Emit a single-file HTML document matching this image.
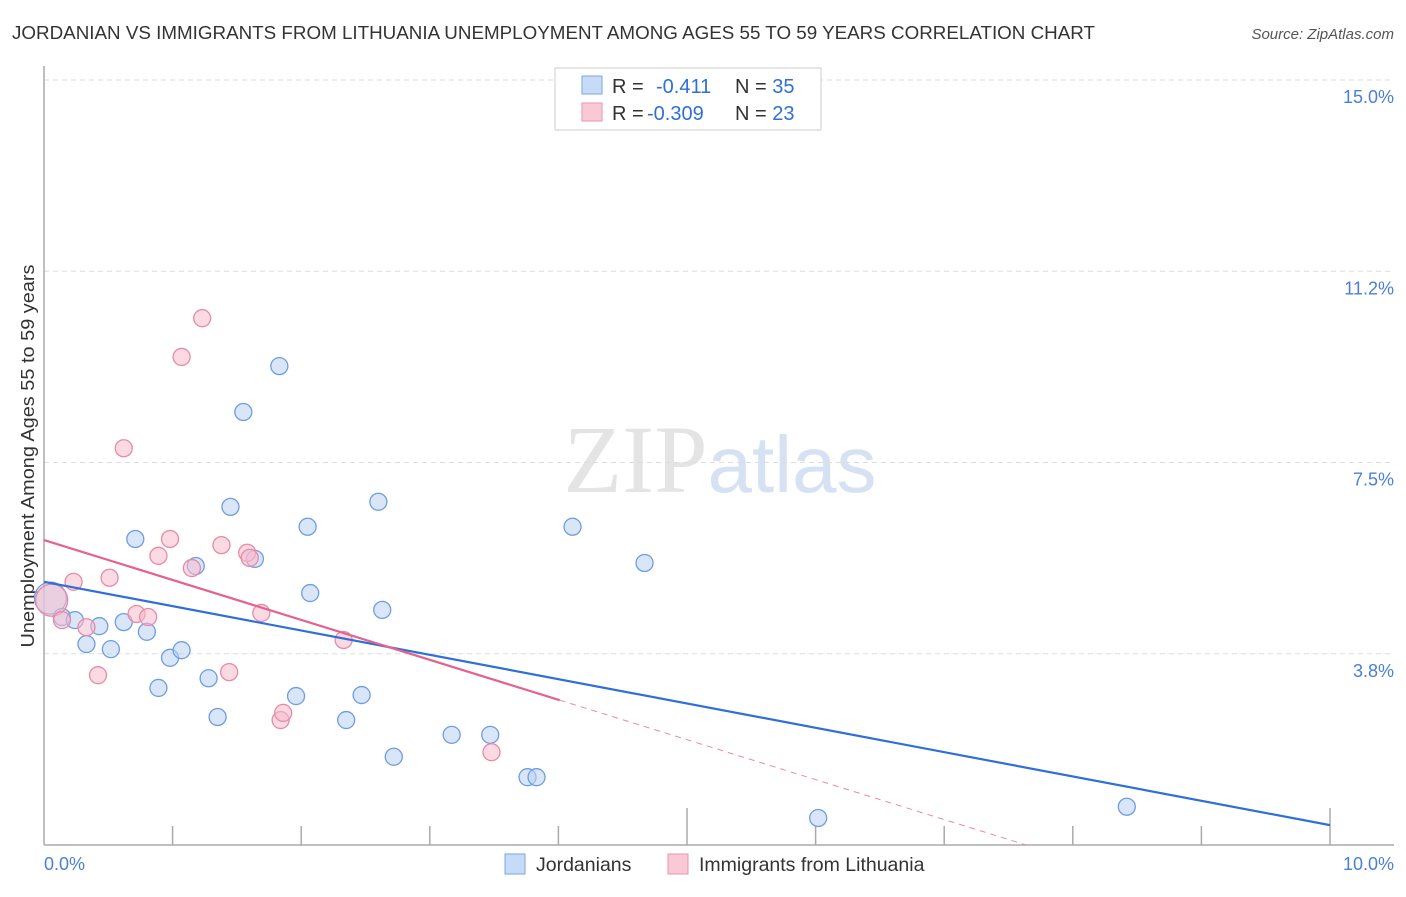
<!DOCTYPE html>
<html><head><meta charset="utf-8"><style>
body{margin:0;background:#fff;font-family:"Liberation Sans",sans-serif}
svg text{font-family:"Liberation Sans",sans-serif}
</style></head><body>
<svg id="c" width="1406" height="892">
<text x="12" y="39" font-size="18" fill="#333" textLength="1083" lengthAdjust="spacingAndGlyphs">JORDANIAN VS IMMIGRANTS FROM LITHUANIA UNEMPLOYMENT AMONG AGES 55 TO 59 YEARS CORRELATION CHART</text>
<text x="1394" y="39" font-size="15" fill="#555" text-anchor="end" font-style="italic">Source: ZipAtlas.com</text>
<text x="720" y="492" font-size="96" fill="#e4e4e4" text-anchor="middle" font-family="Liberation Serif"><tspan font-family="Liberation Serif">ZIP</tspan><tspan fill="#d6e2f3" font-size="80" font-family="Liberation Sans">atlas</tspan></text>
<g id="grid"></g>
<line x1="44" y1="66" x2="44" y2="845" stroke="#aaa" stroke-width="1.5"/>
<line x1="44" y1="845" x2="1394" y2="845" stroke="#aaa" stroke-width="1.5"/>
<g id="ticks"></g>
<text transform="translate(34,456) rotate(-90)" font-size="18" fill="#333" text-anchor="middle" textLength="383" lengthAdjust="spacingAndGlyphs">Unemployment Among Ages 55 to 59 years</text>
<text x="44" y="870" font-size="18" fill="#4a7fd8">0.0%</text>
<text x="1394" y="870" font-size="18" fill="#4a7fd8" text-anchor="end">10.0%</text>
<g id="pts"></g>
<g id="lines"></g>
<g>
<rect x="555" y="68" width="266" height="62" fill="#fff" stroke="#ccc"/>
<rect x="582" y="76" width="20" height="18" fill="#c6dbf7" stroke="#7ea6e6"/>
<rect x="582" y="103" width="20" height="18" fill="#f9c9d6" stroke="#eb93ad"/>
<text x="612" y="93" font-size="20" fill="#333">R = <tspan fill="#2f6fd8" x="656">-0.411</tspan><tspan x="735" fill="#333">N = </tspan><tspan fill="#2f6fd8">35</tspan></text>
<text x="612" y="120" font-size="20" fill="#333">R = <tspan fill="#2f6fd8" x="647">-0.309</tspan><tspan x="735" fill="#333">N = </tspan><tspan fill="#2f6fd8">23</tspan></text>
</g>
<g>
<rect x="505" y="854" width="20" height="20" fill="#c6dbf7" stroke="#7ea6e6"/>
<text x="536" y="871" font-size="19.5" fill="#333">Jordanians</text>
<rect x="668" y="854" width="20" height="20" fill="#f9c9d6" stroke="#eb93ad"/>
<text x="699" y="871" font-size="19.5" fill="#333">Immigrants from Lithuania</text>
</g>
</svg>
<script>
const yTicks=[3.75,7.5,11.25,15];
const yTickLabels=["3.8%","7.5%","11.2%","15.0%"];
const blueX=[0.05,0.14,0.24,0.33,0.43,0.52,0.62,0.71,0.80,0.89,0.98,1.07,1.18,1.28,1.35,1.45,1.55,1.64,1.83,1.96,2.05,2.07,2.35,2.47,2.60,2.63,2.72,3.17,3.47,3.76,3.83,4.11,4.67,6.02,8.42];
const blueY=[4.84,4.47,4.41,3.94,4.29,3.84,4.37,6.00,4.18,3.08,3.67,3.82,5.47,3.27,2.51,6.63,8.49,5.61,9.39,2.92,6.24,4.94,2.45,2.94,6.73,4.61,1.73,2.16,2.16,1.33,1.33,6.24,5.53,0.53,0.75];
const pinkX=[0.06,0.14,0.23,0.33,0.42,0.51,0.62,0.72,0.81,0.89,0.98,1.07,1.15,1.23,1.38,1.44,1.58,1.60,1.69,1.84,1.86,2.33,3.48];
const pinkY=[4.80,4.41,5.16,4.27,3.33,5.24,7.78,4.53,4.47,5.67,6.00,9.57,5.43,10.33,5.88,3.39,5.73,5.63,4.55,2.45,2.59,4.02,1.82];
const blueTrend=[5.16,0.39];
const pinkTrend=[5.98,-0.783];
const NS="http://www.w3.org/2000/svg";
const sx=v=>44+v*128.6, sy=v=>845-v*51;
function mk(t,a,p){const e=document.createElementNS(NS,t);for(const k in a)e.setAttribute(k,a[k]);p.appendChild(e);return e;}
const grid=document.getElementById('grid');
yTicks.forEach((v,i)=>{
 const l=mk('line',{x1:44,x2:1394,y1:sy(v),y2:sy(v),stroke:'#ddd','stroke-dasharray':'5,4'},grid);
 
 
 const t=mk('text',{x:1394,y:sy(v)+23,'font-size':18,fill:'#4a7fd8','text-anchor':'end'},grid);
 t.textContent=yTickLabels[i];
 
 
});
const tk=document.getElementById('ticks');
const tall=[5,10];
for(let i=1;i<=10;i++){
 const l=mk('line',{x1:sx(i),x2:sx(i),y1:tall.includes(i)?808:826,y2:845,stroke:'#aaa','stroke-width':1.5},tk);
 
 
}
const pts=document.getElementById('pts');
function dots(X,Y,fill,stroke,name){
 X.forEach((x,i)=>{
  const c=mk('circle',{cx:sx(x),cy:sy(Y[i]),r:i==0?16:8.5,fill:fill,'fill-opacity':0.55,stroke:stroke,'stroke-width':1.3},pts);
  
  
 });
}
dots(blueX,blueY,'#b9d1f3','#6f9de3','point-jordanian');
dots(pinkX,pinkY,'#f7bccd','#e88aa6','point-lithuania');
const ln=document.getElementById('lines');
const b=mk('line',{x1:sx(0),y1:sy(blueTrend[0]),x2:sx(10),y2:sy(blueTrend[1]),stroke:'#2f6fd8','stroke-width':2.2},ln);


const pe=4.01, pz=-pinkTrend[0]/pinkTrend[1];
const p=mk('line',{x1:sx(0),y1:sy(pinkTrend[0]),x2:sx(pe),y2:sy(pinkTrend[0]+pinkTrend[1]*pe),stroke:'#e4638e','stroke-width':2.2},ln);


const pd=mk('line',{x1:sx(pe),y1:sy(pinkTrend[0]+pinkTrend[1]*pe),x2:sx(pz),y2:sy(0),stroke:'#e88aa6','stroke-width':1,'stroke-dasharray':'6,5'},ln);


</script>
</body></html>
